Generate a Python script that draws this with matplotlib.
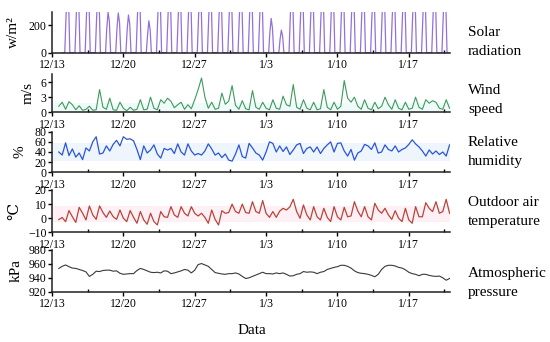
import numpy as np
import pandas as pd
import matplotlib
matplotlib.use("Agg")
import matplotlib.pyplot as plt
from matplotlib.ticker import FixedLocator, FuncFormatter
import matplotlib.dates as mdates

plt.rcParams['font.family'] = ['Liberation Serif', 'DejaVu Serif']

# solar radiation, 3-hourly, one row per day (00h ... 21h), 12/14 .. 1/20
SOLAR_DAYS = [
    [0, 0, 0, 260, 480, 380, 0, 0],  # 12/14
    [0, 0, 0, 260, 470, 370, 0, 0],
    [0, 0, 0, 260, 480, 380, 0, 0],
    [0, 0, 0, 250, 460, 370, 0, 0],
    [0, 0, 0, 180, 295, 230, 0, 0],  # 12/18
    [0, 0, 0, 180, 290, 220, 0, 0],
    [0, 0, 0, 170, 275, 210, 0, 0],
    [0, 0, 0, 260, 470, 380, 0, 0],
    [0, 0, 0, 130, 233, 170, 0, 0],  # 12/22
    [0, 0, 0, 260, 480, 380, 0, 0],
    [0, 0, 0, 260, 470, 380, 0, 0],
    [0, 0, 0, 250, 460, 370, 0, 0],
    [0, 0, 0, 260, 480, 380, 0, 0],
    [0, 0, 0, 260, 470, 380, 0, 0],
    [0, 0, 0, 260, 480, 380, 0, 0],
    [0, 0, 0, 250, 460, 370, 0, 0],
    [0, 0, 0, 260, 480, 380, 0, 0],
    [0, 0, 0, 260, 470, 380, 0, 0],  # 12/31
    [0, 0, 0, 260, 480, 380, 0, 0],
    [0, 0, 0, 260, 470, 370, 0, 0],
    [0, 0, 0, 150, 250, 180, 0, 0],  # 1/3
    [0, 0, 0, 100, 165, 120, 0, 0],
    [0, 0, 0, 260, 480, 380, 0, 0],
    [0, 0, 0, 260, 470, 380, 0, 0],
    [0, 0, 0, 260, 480, 380, 0, 0],
    [0, 0, 0, 250, 460, 370, 0, 0],
    [0, 0, 0, 260, 480, 380, 0, 0],
    [0, 0, 0, 260, 470, 380, 0, 0],  # 1/10
    [0, 0, 0, 260, 480, 380, 0, 0],
    [0, 0, 0, 260, 480, 380, 0, 0],
    [0, 0, 0, 250, 460, 370, 0, 0],
    [0, 0, 0, 260, 480, 380, 0, 0],
    [0, 0, 0, 260, 470, 380, 0, 0],
    [0, 0, 0, 260, 480, 380, 0, 0],
    [0, 0, 0, 260, 480, 380, 0, 0],  # 1/17
    [0, 0, 0, 250, 460, 370, 0, 0],
    [0, 0, 0, 260, 480, 380, 0, 0],
    [0, 0, 0, 260, 470, 380, 0, 0],  # 1/20
]

# 8-hourly series from 12/13 16:00 to 1/21 00:00
WIND = [1.2, 2.0, 0.6, 2.1, 1.5, 0.5, 1.3, 0.4, 0.6, 1.2, 0.4, 0.5,
        4.5, 1.0, 0.6, 2.8, 0.5, 0.4, 2.0, 0.8, 0.3, 1.0, 0.4, 0.6,
        2.5, 0.5, 0.6, 3.0, 0.8, 0.5, 2.5, 1.8, 2.8, 2.2, 0.9, 1.5,
        2.0, 0.6, 1.5, 0.7, 2.5, 4.5, 6.8, 3.0, 0.8, 2.0, 0.6, 0.8,
        3.8, 1.6, 2.2, 5.3, 1.4, 0.6, 2.3, 0.7, 0.5, 4.3, 1.0, 0.6,
        2.0, 0.8, 0.5, 2.5, 0.8, 0.6, 3.2, 1.5, 1.2, 5.5, 1.0, 0.6,
        2.5, 0.8, 0.5, 2.0, 0.5, 0.7, 4.5, 1.0, 0.5, 2.0, 0.6, 1.2,
        6.3, 2.8, 2.0, 3.0, 1.2, 0.6, 2.5, 0.8, 0.5, 2.0, 0.7, 1.2,
        3.0, 1.5, 0.6, 2.5, 0.8, 0.5, 2.0, 0.6, 0.8, 3.0, 1.0, 0.6,
        2.5, 1.8, 2.3, 2.0, 0.8, 0.6, 2.5, 0.8]

HUMIDITY = [40, 34, 58, 33, 46, 30, 38, 25, 48, 42, 60, 70,
            36, 38, 52, 42, 55, 63, 52, 70, 65, 66, 62, 45,
            25, 52, 38, 44, 54, 36, 28, 47, 44, 47, 37, 56,
            40, 34, 56, 42, 34, 37, 34, 42, 56, 46, 34, 38,
            29, 36, 24, 22, 36, 54, 31, 28, 57, 48, 38, 34,
            24, 40, 60, 57, 40, 52, 41, 50, 35, 44, 54, 57,
            37, 47, 50, 40, 50, 37, 47, 54, 60, 40, 57, 58,
            42, 32, 45, 24, 38, 42, 55, 52, 45, 58, 38, 40,
            54, 45, 42, 52, 40, 45, 48, 55, 64, 56, 50, 42,
            32, 44, 36, 42, 35, 40, 32, 54]

TEMPERATURE = [-1, 0.5, -2.5, 5.4, 1, -3, 7.7, 3.5, -1.2, 8.7, 2.3, -0.8,
               8.7, 4, 0.6, 5.1, 1.1, -0.8, 5.8, 0, -2.4, 5.4, 0.6, -3.6,
               4.7, -1.2, -4.3, 3.5, -2.4, -4.8, 4.7, 1, 0.6, 8.2, 2.3, 0.6,
               8.2, 3.5, 1.6, 8.2, 3.5, 1.6, 3.5, 0.6, -3.6, 5.8, -0.8, -4.8,
               5.3, 3.5, 4, 10, 4.7, 3.5, 10, 4, 3.5, 11.7, 4.7, 3.5,
               12.5, 3.5, 0.6, 4.7, 0.6, 5, 7, 5.8, 8, 13.4, 4.7, 0,
               9.4, 2.3, -1.2, 8.2, 1, -1.2, 7, 0.6, -2.4, 8.2, 1, -1.2,
               7.7, 1, 1.6, 11.7, 5, 1, 8.2, 1, -1.2, 10.6, 5.8, 3.5,
               7, 2.3, -0.8, 5.3, 0, -2.4, 7, -1.2, -3.6, 8.2, 1, 1,
               11, 7, 4.7, 11.7, 3.5, 4.7, 13.4, 3.5]

PRESSURE = [953.5, 956.5, 958.5, 956, 954, 953.5, 952, 950.5, 948.5, 942, 945, 949.5,
            949, 950.5, 951, 951, 949.5, 950, 946.5, 945, 945.5, 946, 946, 950.5,
            953.5, 952, 950, 948, 947.5, 948, 947, 950, 949.5, 946, 947, 948.5,
            950, 952, 951, 947, 951, 959, 960.5, 958.5, 956.5, 952, 947.5, 946.5,
            945.5, 945, 946, 946, 947, 945.5, 942, 939, 940, 942, 944, 946,
            948, 946, 946, 945.5, 947, 946, 947, 945, 942.5, 943, 945, 946,
            949, 948, 948.5, 948, 946, 948, 949, 952, 953.5, 955, 956, 958,
            958, 956.5, 954, 950, 947.5, 946.5, 946, 945, 943.5, 941.5, 945, 952,
            956.5, 958, 958, 957, 955, 954, 951.5, 948, 946, 945, 943, 945,
            945, 943.5, 942.5, 942, 942.5, 940, 936.5, 939]

MAJOR_DAYS = pd.date_range('2020-12-13', periods=6, freq='7D')
MINOR_DAYS = pd.date_range('2020-12-13', periods=12, freq='84h')

t8 = pd.date_range('2020-12-13 16:00', periods=len(WIND), freq='8h')
solar = np.ravel(SOLAR_DAYS)
t3 = pd.date_range('2020-12-14 00:00', periods=len(solar), freq='3h')

W, H = 550, 342
fig = plt.figure(figsize=(W / 100, H / 100), dpi=100)


def panel(top, bottom):
    ax = fig.add_axes([52 / W, 1 - bottom / H, 398 / W, (bottom - top) / H])
    for s in ('top', 'right'):
        ax.spines[s].set_visible(False)
    for s in ('left', 'bottom'):
        ax.spines[s].set_linewidth(1.1)
        ax.spines[s].set_color('#222222')
    ax.set_xlim(pd.Timestamp('2020-12-13 00:00'), pd.Timestamp('2021-01-21 01:00'))
    ax.xaxis.set_major_locator(FixedLocator(mdates.date2num(MAJOR_DAYS)))
    ax.xaxis.set_minor_locator(FixedLocator(mdates.date2num(MINOR_DAYS)))
    ax.xaxis.set_major_formatter(FuncFormatter(
        lambda v, p: f"{mdates.num2date(v).month}/{mdates.num2date(v).day}"))
    ax.tick_params(axis='x', which='major', direction='out', length=3, width=1,
                   labelsize=8.5, pad=1.5)
    ax.tick_params(axis='x', which='minor', direction='in', length=2, width=1)
    ax.tick_params(axis='y', direction='out', length=3, width=1, labelsize=8.5, pad=1)
    return ax


panels = [(11.6, 52.7), (74, 112.3), (131.7, 172.3), (190, 232.3), (250, 291.7)]
axes = [panel(*p) for p in panels]

ax = axes[0]
ax.plot(t3, solar, color='#9370DB', lw=0.9)
ax.set_ylim(0, 300)
ax.set_yticks([0, 200])

ax = axes[1]
ax.axhspan(0.3, 1.8, color='#effbf8', lw=0, zorder=0)
ax.plot(t8, WIND, color='#3d9a5e', lw=0.8)
ax.set_ylim(0, 7.6)
ax.set_yticks([0, 3, 6])

ax = axes[2]
ax.axhspan(22, 58, color='#eef5fd', lw=0, zorder=0)
ax.plot(t8, HUMIDITY, color='#2b55d9', lw=0.9)
ax.set_ylim(0, 80)
ax.set_yticks([0, 20, 40, 60, 80])

ax = axes[3]
ax.axhspan(-3, 9, color='#fef0f4', lw=0, zorder=0)
ax.plot(t8, TEMPERATURE, color='#b8453a', lw=0.9)
ax.set_ylim(-10, 20)
ax.set_yticks([-10, 0, 10, 20])

ax = axes[4]
ax.plot(t8, PRESSURE, color='#3a3a3a', lw=0.8)
ax.set_ylim(920, 980)
ax.set_yticks([920, 940, 960, 980])

ylabels = ['w/m²', 'm/s', '%', '℃', 'kPa']
ylab_x = [13, 28, 20, 15, 16]
for ax, lab, xp, (top, bottom) in zip(axes, ylabels, ylab_x, panels):
    fig.text(xp / W, 1 - (top + bottom) / 2 / H, lab, rotation=90,
             ha='center', va='center', fontsize=11)

right_labels = ['Solar\nradiation', 'Wind\nspeed', 'Relative\nhumidity',
                'Outdoor air\ntemperature', 'Atmospheric\npressure']
right_y = [42, 100, 152, 212, 283]
for lab, yp in zip(right_labels, right_y):
    fig.text(468 / W, 1 - yp / H, lab, ha='left', va='center', fontsize=11,
             linespacing=1.55)

fig.text(252 / W, 1 - 331 / H, 'Data', ha='center', va='center', fontsize=11)

fig.savefig('out.png', dpi=100)
